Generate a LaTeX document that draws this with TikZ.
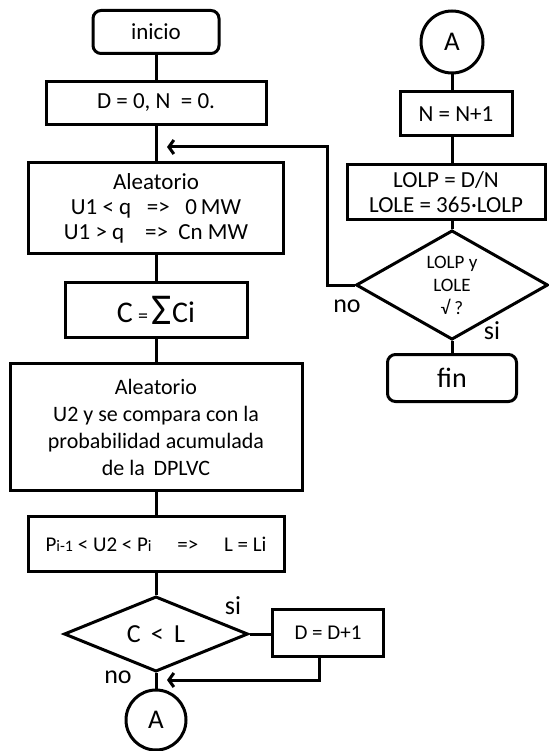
\documentclass[tikz,border=0pt]{standalone}
\usepackage{fontspec}
\setmainfont{Carlito}
\usetikzlibrary{shapes.geometric,arrows.meta}

\begin{document}
\begin{tikzpicture}[
    x=1pt,y=-1pt,
    line width=3pt,
    txt/.style={font=\fontsize{23}{25}\selectfont},
    term/.style={draw,rounded corners=8pt,txt},
    proc/.style={draw,align=center,txt,inner sep=0pt},
    cond/.style={draw,diamond,inner sep=0pt,align=center},
    con/.style={draw,circle,inner sep=0pt,font=\fontsize{27}{27}\selectfont},
    lbl/.style={font=\fontsize{26}{26}\selectfont},
    flow/.style={-{Straight Barb[length=5pt,width=14pt,line width=3pt]}},
  ]
    \useasboundingbox (0,0) rectangle (548,751);

    % Main column
    \node[term,minimum width=126pt,minimum height=43pt] (inicio) at (156,32) {inicio};
    \node[proc,minimum width=220pt,minimum height=43pt] (init) at (156,103)
      {D = 0, N \ = 0.};
    \node[proc,minimum width=255pt,minimum height=90pt] (alea1) at (156,208)
      {Aleatorio\\U1 < q \ \ => \ \ 0\,MW\\U1 > q \ \ \ => \ Cn MW};
    \node[proc,minimum width=182pt,minimum height=55pt] (suma) at (156,310)
      {{\fontsize{30}{30}\selectfont C} {\fontsize{20}{20}\selectfont =}%
       \,\raisebox{-2pt}{\fontsize{44}{44}\selectfont Σ}{\fontsize{30}{30}\selectfont Ci}};
    \node[proc,minimum width=292pt,minimum height=127pt,
          font=\fontsize{22}{27}\selectfont] (alea2) at (156,427)
      {Aleatorio\\U2 y se compara con la\\probabilidad acumulada\\de la \,DPLVC};
    \node[proc,minimum width=256pt,minimum height=55pt,
          font=\fontsize{21}{21}\selectfont] (comp) at (156,544)
      {P{\fontsize{16}{16}\selectfont i-1} < U2 < P{\fontsize{16}{16}\selectfont i}
       \quad => \quad L = Li};
    \node[cond,minimum width=184pt,minimum height=68pt,
          font=\fontsize{26}{26}\selectfont] (dec1) at (156,634) {C \,<\, L};
    \node[proc,minimum width=111pt,minimum height=47pt,
          font=\fontsize{21}{21}\selectfont] (sumaD) at (328,633) {D = D+1};
    \node[con,minimum size=60pt] (conA1) at (156,720) {A};

    % Right column
    \node[con,minimum size=62pt] (conA2) at (452,42) {A};
    \node[proc,minimum width=112pt,minimum height=44pt] (incN) at (456,114) {N = N+1};
    \node[proc,minimum width=198pt,minimum height=54pt] (lolp) at (446,192)
      {LOLP = D/N\\LOLE = 365·LOLP};
    \node[cond,minimum width=192pt,minimum height=96pt,
          font=\fontsize{19}{23}\selectfont] (dec2) at (452,285)
      {LOLP y\\LOLE\\√ ?};
    \node[term,minimum width=129pt,minimum height=47pt,
          font=\fontsize{28}{28}\selectfont] (fin) at (452,378) {fin};

    % Connectors
    \draw (inicio) -- (init);
    \draw (init) -- (alea1);
    \draw (alea1) -- (suma);
    \draw (suma) -- (alea2);
    \draw (alea2) -- (comp);
    \draw (comp) -- (dec1);
    \draw (dec1) -- (conA1);
    \draw (dec1.east) -- (dec1.east -| sumaD.west);
    \coordinate (ret2) at (167,680);
    \draw[flow] ([xshift=-9pt]sumaD.south) |- (ret2);
    \draw (conA2.south) -- (conA2.south |- incN.north);
    \draw (conA2.south |- incN.south) -- (conA2.south |- lolp.north);
    \draw (conA2.south |- lolp.south) -- (dec2.north);
    \draw (dec2) -- (fin);
    \coordinate (ret1) at (167,147);
    \draw[flow] (dec2.west) -- (327,285) |- (ret1);

    % Labels
    \node[lbl] (si1) at (233,606) {si};
    \node[lbl] (no1) at (118,677) {no};
    \node[lbl] (no2) at (347,306) {no};
    \node[lbl] (si2) at (492,331) {si};

  \end{tikzpicture}
\end{document}
